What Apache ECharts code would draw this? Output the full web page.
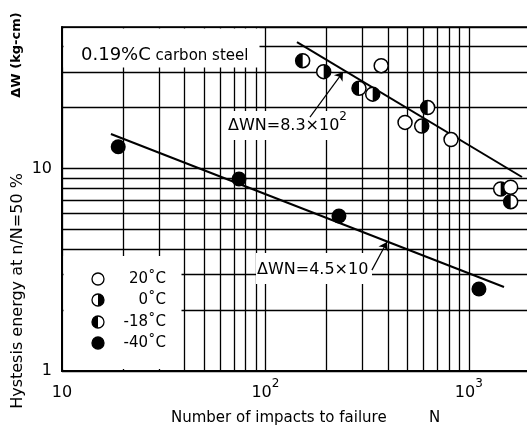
<!DOCTYPE html>
<html>
<head>
<meta charset="utf-8">
<script src="https://cdn.jsdelivr.net/npm/echarts@6/dist/echarts.min.js"></script>
<style>
  html, body { margin: 0; padding: 0; background: #fff; }
  #chart { width: 527px; height: 427px; }
</style>
</head>
<body>
<div id="chart"></div>
<script>
// 数据: [N, ΔW]
const temp20 = [[371, 32.2], [486, 16.9], [818, 13.9], [1607, 8.08]];
const temp0 = [[193.5, 30.1], [337, 23.3], [587, 16.2], [1435, 7.92]];
const tempM18 = [[152.5, 34.1], [288.6, 24.9], [628, 20.0], [1607, 6.86]];
const tempM40 = [[18.9, 12.8], [74.2, 8.87], [230, 5.83], [1122, 2.54]];

// 两条拟合直线 (端点)
const fitUpper = [[143, 42.1], [1826, 9.08]];
const fitLower = [[17.4, 14.8], [1490, 2.6]];

// 箭头 (起点 -> 终点)
const arrowUpper = [[165.6, 17.96], [240.7, 29.96]];
const arrowLower = [[334, 3.15], [396, 4.34]];

// 坐标轴
const xRange = [10, 2000];
const yRange = [1, 50];
const xMinor = [20, 30, 40, 50, 60, 70, 80, 90, 200, 300, 400, 500, 600, 700, 800, 900];
const yMinor = [2, 3, 4, 5, 6, 7, 8, 9, 20, 30, 40];
const xTickLabels = { 10: "{a|10}", 100: "{a|10}{s|2}", 1000: "{a|10}{s|3}" };
const yTickLabels = { 1: "1", 10: "10" };

const legendNames = ["20˚C", "0˚C", "-18˚C", "-40˚C"];

(function () {
  let myChart = echarts.init(document.getElementById("chart"));
  const font = "DejaVu Sans";
  const black = "#000";
  // 半黑圆 (包围盒保持整圆)
  const leftHalf = "path://M0,0M20,20M10,0A10,10,0,0,0,10,20Z";
  const rightHalf = "path://M0,0M20,20M10,0A10,10,0,0,1,10,20Z";
  const size = 14;

  const openCircle = {
    symbol: "circle",
    symbolSize: size,
    itemStyle: { color: "#fff", borderColor: black, borderWidth: 1.5, opacity: 1 },
  };
  const halfStyle = { color: black, borderWidth: 0, opacity: 1 };

  // 图例
  const lgX = 98;
  const lgY = [279, 300, 322, 343];
  const legendEls = [];
  lgY.forEach(function (y, i) {
    legendEls.push({
      type: "circle",
      z: 11,
      shape: { cx: lgX, cy: y, r: 6 },
      style: { fill: i === 3 ? black : "#fff", stroke: black, lineWidth: 1.3 },
    });
    if (i === 1 || i === 2) {
      legendEls.push({
        type: "sector",
        z: 12,
        shape: {
          cx: lgX, cy: y, r0: 0, r: 6,
          startAngle: i === 1 ? -Math.PI / 2 : Math.PI / 2,
          endAngle: i === 1 ? Math.PI / 2 : Math.PI * 1.5,
          clockwise: true,
        },
        style: { fill: black },
      });
    }
    legendEls.push({
      type: "text",
      z: 12,
      x: 166,
      y: y,
      style: {
        text: legendNames[i],
        font: "15px " + font,
        fill: black,
        align: "right",
        verticalAlign: "middle",
      },
    });
  });

  const supRich = {
    a: { fontSize: 16, fontFamily: font, lineHeight: 30, color: black },
    s: { fontSize: 12, fontFamily: font, lineHeight: 12, verticalAlign: "top", color: black },
  };

  let option = {
    animation: false,
    backgroundColor: "#fff",
    grid: {
      left: 62,
      top: 27,
      right: -3,
      bottom: 56,
      outerBoundsMode: "none",
      show: true,
      borderColor: black,
      borderWidth: 1.5,
    },
    xAxis: {
      type: "log",
      logBase: 10,
      min: xRange[0],
      max: xRange[1],
      axisLine: { show: true, lineStyle: { color: black, width: 2 } },
      axisTick: { show: false },
      splitLine: { show: true, lineStyle: { color: black, width: 1.3 } },
      axisLabel: {
        margin: 7,
        formatter: function (v) {
          return xTickLabels[Math.round(v)] || "";
        },
        rich: supRich,
        verticalAlign: "top",
      },
    },
    yAxis: {
      type: "log",
      logBase: 10,
      min: yRange[0],
      max: yRange[1],
      axisLine: { show: true, lineStyle: { color: black, width: 2 } },
      axisTick: { show: false },
      splitLine: { show: true, lineStyle: { color: black, width: 1.3 } },
      axisLabel: {
        margin: 10,
        color: black,
        fontSize: 16,
        fontFamily: font,
        formatter: function (v) {
          return yTickLabels[Math.round(v)] || "";
        },
      },
    },
    series: [
      {
        // 细网格线
        name: "grid",
        type: "line",
        data: [],
        silent: true,
        markLine: {
          z: 1,
          silent: true,
          symbol: "none",
          label: { show: false },
          lineStyle: { type: "solid", color: black, width: 1.3 },
          emphasis: { disabled: true },
          data: xMinor.map(function (v) { return { xAxis: v }; })
            .concat(yMinor.map(function (v) { return { yAxis: v }; })),
        },
      },
      {
        name: "upper",
        type: "line",
        data: fitUpper,
        symbol: "none",
        z: 2,
        lineStyle: { color: black, width: 2 },
      },
      {
        name: "lower",
        type: "line",
        data: fitLower,
        symbol: "none",
        z: 2,
        lineStyle: { color: black, width: 2 },
        markLine: {
          z: 20,
          silent: true,
          symbol: ["none", "arrow"],
          symbolSize: 8,
          label: { show: false },
          lineStyle: { type: "solid", color: black, width: 1.2 },
          data: [
            [{ coord: arrowUpper[0] }, { coord: arrowUpper[1] }],
            [{ coord: arrowLower[0] }, { coord: arrowLower[1] }],
          ],
        },
      },
      Object.assign({ name: "0˚C", type: "scatter", data: temp0, z: 3 }, openCircle),
      { name: "0˚C half", type: "scatter", data: temp0, z: 4, symbol: rightHalf, symbolSize: size, itemStyle: halfStyle },
      Object.assign({ name: "20˚C", type: "scatter", data: temp20, z: 5 }, openCircle),
      Object.assign({ name: "-18˚C", type: "scatter", data: tempM18, z: 6 }, openCircle),
      { name: "-18˚C half", type: "scatter", data: tempM18, z: 7, symbol: leftHalf, symbolSize: size, itemStyle: halfStyle },
      {
        name: "-40˚C",
        type: "scatter",
        data: tempM40,
        z: 3,
        symbol: "circle",
        symbolSize: 15,
        itemStyle: { color: black, opacity: 1 },
      },
    ],
    graphic: [
      // 白底遮挡
      { type: "rect", z: 10, shape: { x: 63.5, y: 28.5, width: 196, height: 39 }, style: { fill: "#fff" } },
      { type: "rect", z: 10, shape: { x: 63.5, y: 256, width: 118, height: 113 }, style: { fill: "#fff" } },
      { type: "rect", z: 10, shape: { x: 222, y: 111, width: 124, height: 29 }, style: { fill: "#fff" } },
      { type: "rect", z: 10, shape: { x: 256, y: 253, width: 116, height: 31 }, style: { fill: "#fff" } },
      {
        type: "text",
        z: 12,
        x: 81,
        y: 53,
        style: {
          text: "{a|0.19%C}{b| carbon steel}",
          rich: {
            a: { fontSize: 18, fontFamily: font, color: black, lineHeight: 22, verticalAlign: "bottom" },
            b: { fontSize: 15, fontFamily: font, color: black, lineHeight: 20, verticalAlign: "bottom" },
          },
          verticalAlign: "middle",
        },
      },
      {
        type: "text",
        z: 21,
        x: 228,
        y: 126,
        style: { text: "{a|ΔWN=8.3×10}{s|2}", rich: supRich, verticalAlign: "middle" },
      },
      {
        type: "text",
        z: 21,
        x: 257,
        y: 270,
        style: { text: "ΔWN=4.5×10", font: "16px " + font, fill: black, verticalAlign: "middle" },
      },
      {
        type: "text",
        z: 12,
        x: 18,
        y: 291,
        rotation: Math.PI / 2,
        style: {
          text: "Hystesis energy at n/N=50 %",
          font: "16px " + font,
          fill: black,
          align: "center",
          verticalAlign: "middle",
        },
      },
      {
        type: "text",
        z: 12,
        x: 17,
        y: 55,
        rotation: Math.PI / 2,
        style: {
          text: "ΔW (kg-cm)",
          font: "bold 13px " + font,
          fill: black,
          align: "center",
          verticalAlign: "middle",
        },
      },
      {
        type: "text",
        z: 12,
        x: 171,
        y: 418,
        style: { text: "Number of impacts to failure", font: "15px " + font, fill: black, verticalAlign: "middle" },
      },
      {
        type: "text",
        z: 12,
        x: 429,
        y: 418,
        style: { text: "N", font: "15px " + font, fill: black, verticalAlign: "middle" },
      },
    ].concat(legendEls),
  };

  myChart.setOption(option);
  window.addEventListener("resize", function () {
    myChart.resize();
  });
})();
</script>
</body>
</html>
